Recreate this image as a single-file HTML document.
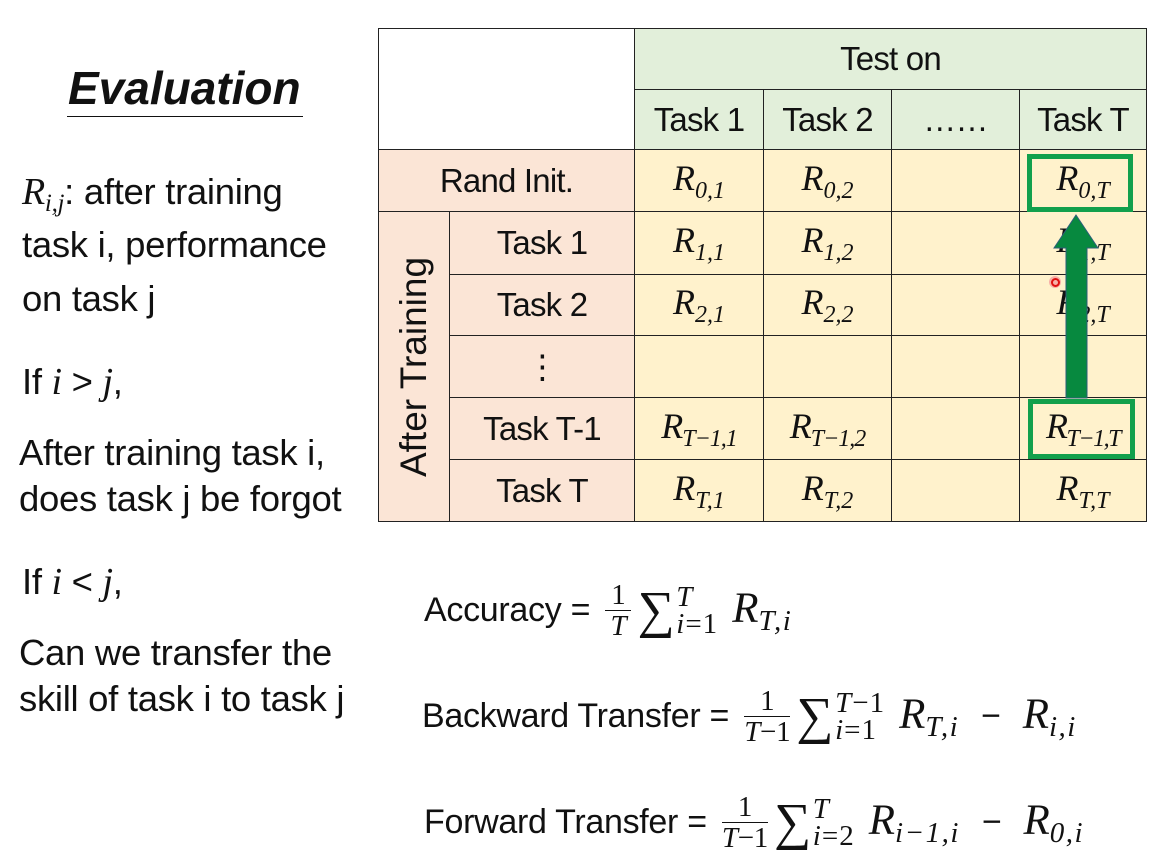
<!DOCTYPE html>
<html><head><meta charset="utf-8"><style>
body{margin:0;width:1176px;height:868px;background:#fff;position:relative;overflow:hidden;font-family:"Liberation Sans",sans-serif;color:#111}
.a{position:absolute;white-space:nowrap}
.c{position:absolute;display:flex;align-items:center;justify-content:center;box-sizing:border-box;border:1.5px solid #222;font-size:33px;letter-spacing:-0.8px}
.m{font-family:"Liberation Serif",serif;font-style:italic;font-size:36px;letter-spacing:0}
.m sub{font-size:24px;vertical-align:-8px}
.t{font-size:36.5px;letter-spacing:-0.3px}
.f{font-size:34px;letter-spacing:-0.3px;display:flex;align-items:center}
.fr{display:inline-flex;flex-direction:column;align-items:center;font-family:"Liberation Serif",serif;font-size:29px;line-height:30px;margin:0 6px}
.num{border-bottom:1.5px solid #111;padding:0 6px;align-self:stretch;text-align:center}
.den{font-style:italic}
.sig{font-family:"Liberation Serif",serif;font-size:52px;margin-right:2px}
.ss{display:inline-flex;flex-direction:column;font-family:"Liberation Serif",serif;font-style:italic;font-size:29px;line-height:27px;margin-right:14px;letter-spacing:1px}
.f .mi{font-size:43px;letter-spacing:0}
.f .mi sub{font-size:29px;vertical-align:-8px;letter-spacing:1.5px}
.mi{font-family:"Liberation Serif",serif;font-style:italic;font-size:38px}
.mi sub{font-size:25px;vertical-align:-7px}
.n{font-style:normal}
.op{margin:0 22px}
</style></head><body>
<div class="a" style="left:68px;top:61px;font-size:46px;font-weight:bold;font-style:italic;letter-spacing:0">Evaluation</div>
<div class="a" style="left:67px;top:116px;width:236px;border-top:1.5px solid #111"></div>

<div class="a t" style="left:22px;top:170px"><span class="mi">R<sub>i,j</sub></span>: after training</div>
<div class="a t" style="left:22px;top:224px">task i, performance</div>
<div class="a t" style="left:22px;top:278px">on task j</div>
<div class="a t" style="left:22px;top:360px">If <span class="mi">i</span> &gt; <span class="mi">j</span>,</div>
<div class="a t" style="left:19px;top:432px">After training task i,</div>
<div class="a t" style="left:19px;top:478px">does task j be forgot</div>
<div class="a t" style="left:22px;top:560px">If <span class="mi">i</span> &lt; <span class="mi">j</span>,</div>
<div class="a t" style="left:19px;top:632px">Can we transfer the</div>
<div class="a t" style="left:19px;top:678px">skill of task i to task j</div>

<!-- table -->
<div class="c" style="left:378px;top:28px;width:257px;height:122px;background:#fff"></div>
<div class="c" style="left:634px;top:28px;width:513px;height:62px;background:#e2efda">Test on</div>
<div class="c" style="left:634px;top:89px;width:130px;height:61px;background:#e2efda">Task 1</div>
<div class="c" style="left:763px;top:89px;width:129px;height:61px;background:#e2efda">Task 2</div>
<div class="c" style="left:891px;top:89px;width:129px;height:61px;background:#e2efda">……</div>
<div class="c" style="left:1019px;top:89px;width:128px;height:61px;background:#e2efda">Task T</div>

<div class="c" style="left:378px;top:149px;width:257px;height:63px;background:#fbe5d6">Rand Init.</div>
<div class="c" style="left:378px;top:211px;width:72px;height:311px;background:#fbe5d6"><div style="transform:rotate(-90deg);white-space:nowrap;font-size:37px;letter-spacing:0">After Training</div></div>
<div class="c" style="left:449px;top:211px;width:186px;height:64px;background:#fbe5d6">Task 1</div>
<div class="c" style="left:449px;top:274px;width:186px;height:62px;background:#fbe5d6">Task 2</div>
<div class="c" style="left:449px;top:335px;width:186px;height:63px;background:#fbe5d6">⋮</div>
<div class="c" style="left:449px;top:397px;width:186px;height:63px;background:#fbe5d6">Task T-1</div>
<div class="c" style="left:449px;top:459px;width:186px;height:63px;background:#fbe5d6">Task T</div>

<!-- cells -->
<div class="c m" style="left:634px;top:149px;width:130px;height:63px;background:#fff2cc"><span>R<sub>0,1</sub></span></div>
<div class="c m" style="left:763px;top:149px;width:129px;height:63px;background:#fff2cc"><span>R<sub>0,2</sub></span></div>
<div class="c m" style="left:891px;top:149px;width:129px;height:63px;background:#fff2cc"></div>
<div class="c m" style="left:1019px;top:149px;width:128px;height:63px;background:#fff2cc"><span>R<sub>0,T</sub></span></div>

<div class="c m" style="left:634px;top:211px;width:130px;height:64px;background:#fff2cc"><span>R<sub>1,1</sub></span></div>
<div class="c m" style="left:763px;top:211px;width:129px;height:64px;background:#fff2cc"><span>R<sub>1,2</sub></span></div>
<div class="c m" style="left:891px;top:211px;width:129px;height:64px;background:#fff2cc"></div>
<div class="c m" style="left:1019px;top:211px;width:128px;height:64px;background:#fff2cc"><span>R<sub>1,T</sub></span></div>

<div class="c m" style="left:634px;top:274px;width:130px;height:62px;background:#fff2cc"><span>R<sub>2,1</sub></span></div>
<div class="c m" style="left:763px;top:274px;width:129px;height:62px;background:#fff2cc"><span>R<sub>2,2</sub></span></div>
<div class="c m" style="left:891px;top:274px;width:129px;height:62px;background:#fff2cc"></div>
<div class="c m" style="left:1019px;top:274px;width:128px;height:62px;background:#fff2cc"><span>R<sub>2,T</sub></span></div>

<div class="c" style="left:634px;top:335px;width:130px;height:63px;background:#fff2cc"></div>
<div class="c" style="left:763px;top:335px;width:129px;height:63px;background:#fff2cc"></div>
<div class="c" style="left:891px;top:335px;width:129px;height:63px;background:#fff2cc"></div>
<div class="c" style="left:1019px;top:335px;width:128px;height:63px;background:#fff2cc"></div>

<div class="c m" style="left:634px;top:397px;width:130px;height:63px;background:#fff2cc;letter-spacing:-1px"><span>R<sub>T−1,1</sub></span></div>
<div class="c m" style="left:763px;top:397px;width:129px;height:63px;background:#fff2cc;letter-spacing:-1px"><span>R<sub>T−1,2</sub></span></div>
<div class="c m" style="left:891px;top:397px;width:129px;height:63px;background:#fff2cc"></div>
<div class="c m" style="left:1019px;top:397px;width:128px;height:63px;background:#fff2cc;letter-spacing:-1.5px"><span>R<sub>T−1,T</sub></span></div>

<div class="c m" style="left:634px;top:459px;width:130px;height:63px;background:#fff2cc"><span>R<sub>T,1</sub></span></div>
<div class="c m" style="left:763px;top:459px;width:129px;height:63px;background:#fff2cc"><span>R<sub>T,2</sub></span></div>
<div class="c m" style="left:891px;top:459px;width:129px;height:63px;background:#fff2cc"></div>
<div class="c m" style="left:1019px;top:459px;width:128px;height:63px;background:#fff2cc"><span>R<sub>T,T</sub></span></div>

<!-- green boxes + arrow -->
<div class="a" style="left:1027px;top:154px;width:106px;height:58px;border:5px solid #12a04c;box-sizing:border-box"></div>
<div class="a" style="left:1028px;top:399px;width:107px;height:60px;border:5px solid #12a04c;box-sizing:border-box"></div>
<svg class="a" style="left:1046px;top:212px" width="60" height="190"><polygon points="30,3 52,36 41,36 41,186 20,186 20,36 8,36" fill="#07893f" stroke="#2b5f7a" stroke-width="1"/></svg>
<div class="a" style="left:1049px;top:276px;width:12px;height:12px;border-radius:50%;background:#f7b0a8"></div>
<div class="a" style="left:1051px;top:278px;width:5px;height:5px;border-radius:50%;border:2px solid #e01010"></div>

<!-- formulas -->
<div class="a f" style="left:424px;top:580px">Accuracy =&nbsp;<span class="fr"><span class="num">1</span><span class="den">T</span></span><span class="sig">∑</span><span class="ss"><span>T</span><span>i<span class="n">=1</span></span></span><span class="mi">R<sub>T,i</sub></span></div>
<div class="a f" style="left:422px;top:686px">Backward Transfer =&nbsp;<span class="fr"><span class="num">1</span><span class="den">T<span class="n">−1</span></span></span><span class="sig">∑</span><span class="ss"><span>T<span class="n">−1</span></span><span>i<span class="n">=1</span></span></span><span class="mi">R<sub>T,i</sub></span><span class="op">−</span><span class="mi">R<sub>i,i</sub></span></div>
<div class="a f" style="left:424px;top:792px">Forward Transfer =&nbsp;<span class="fr"><span class="num">1</span><span class="den">T<span class="n">−1</span></span></span><span class="sig">∑</span><span class="ss"><span>T</span><span>i<span class="n">=2</span></span></span><span class="mi">R<sub>i−1,i</sub></span><span class="op">−</span><span class="mi">R<sub>0,i</sub></span></div>
</body></html>
